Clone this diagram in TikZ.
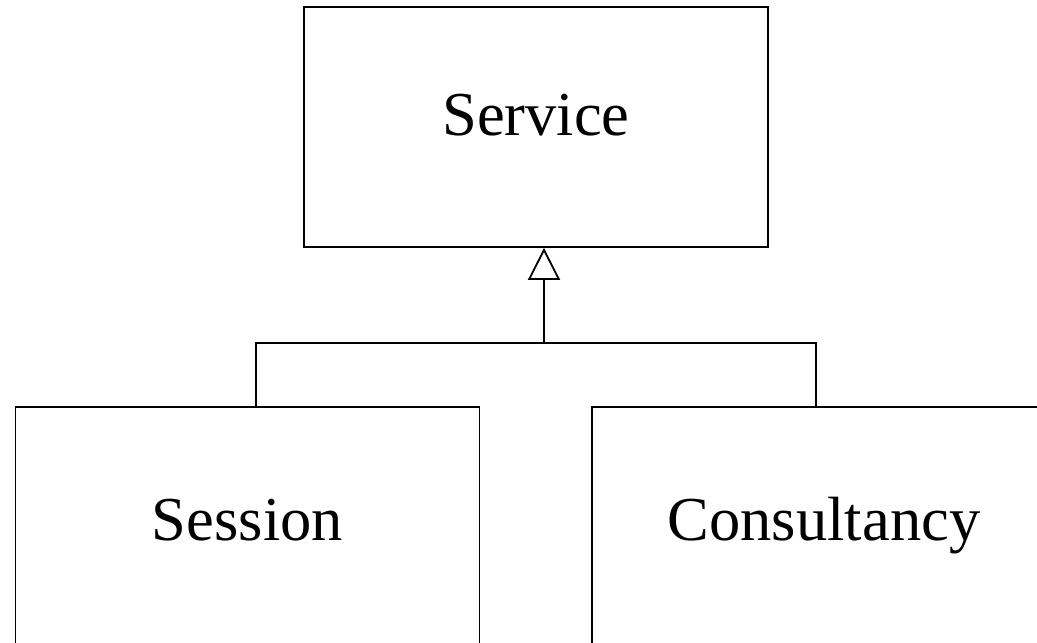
\documentclass[tikz,border=0pt]{standalone}
\usepackage{fontspec}
\setmainfont{Liberation Serif}
\usetikzlibrary{positioning, arrows.meta}

\tikzset{
    classbox/.style={draw, line width=1.8pt, minimum width=464pt, minimum height=240pt,
        inner sep=0pt, font=\fontsize{62.5}{72}\selectfont, text height=41pt, text depth=25pt},
    inherits/.style={line width=1.8pt, -{Triangle[open, length=32pt, width=32pt, line width=1.8pt]}}
}

\begin{document}
\begin{tikzpicture}[x=1pt, y=-1pt]
            \useasboundingbox (0,0) rectangle (1037,643);
            \node[classbox] (service) at (536,127) {Service};
            \node[classbox, minimum height=250pt] (session) at (247.5,532) {Session};
            \node[classbox, minimum height=250pt] (consult) at (824,532) {Consultancy};
            \coordinate (bus) at (544,343);
            \coordinate (sesjoin) at (256,343);
            \coordinate (conjoin) at (816,343);
            \draw[inherits] (bus) -- (service.south -| bus);
            \draw[line width=1.8pt] (session.north -| sesjoin) -- (sesjoin) -- (conjoin) -- (consult.north -| conjoin);
        \end{tikzpicture}
\end{document}
